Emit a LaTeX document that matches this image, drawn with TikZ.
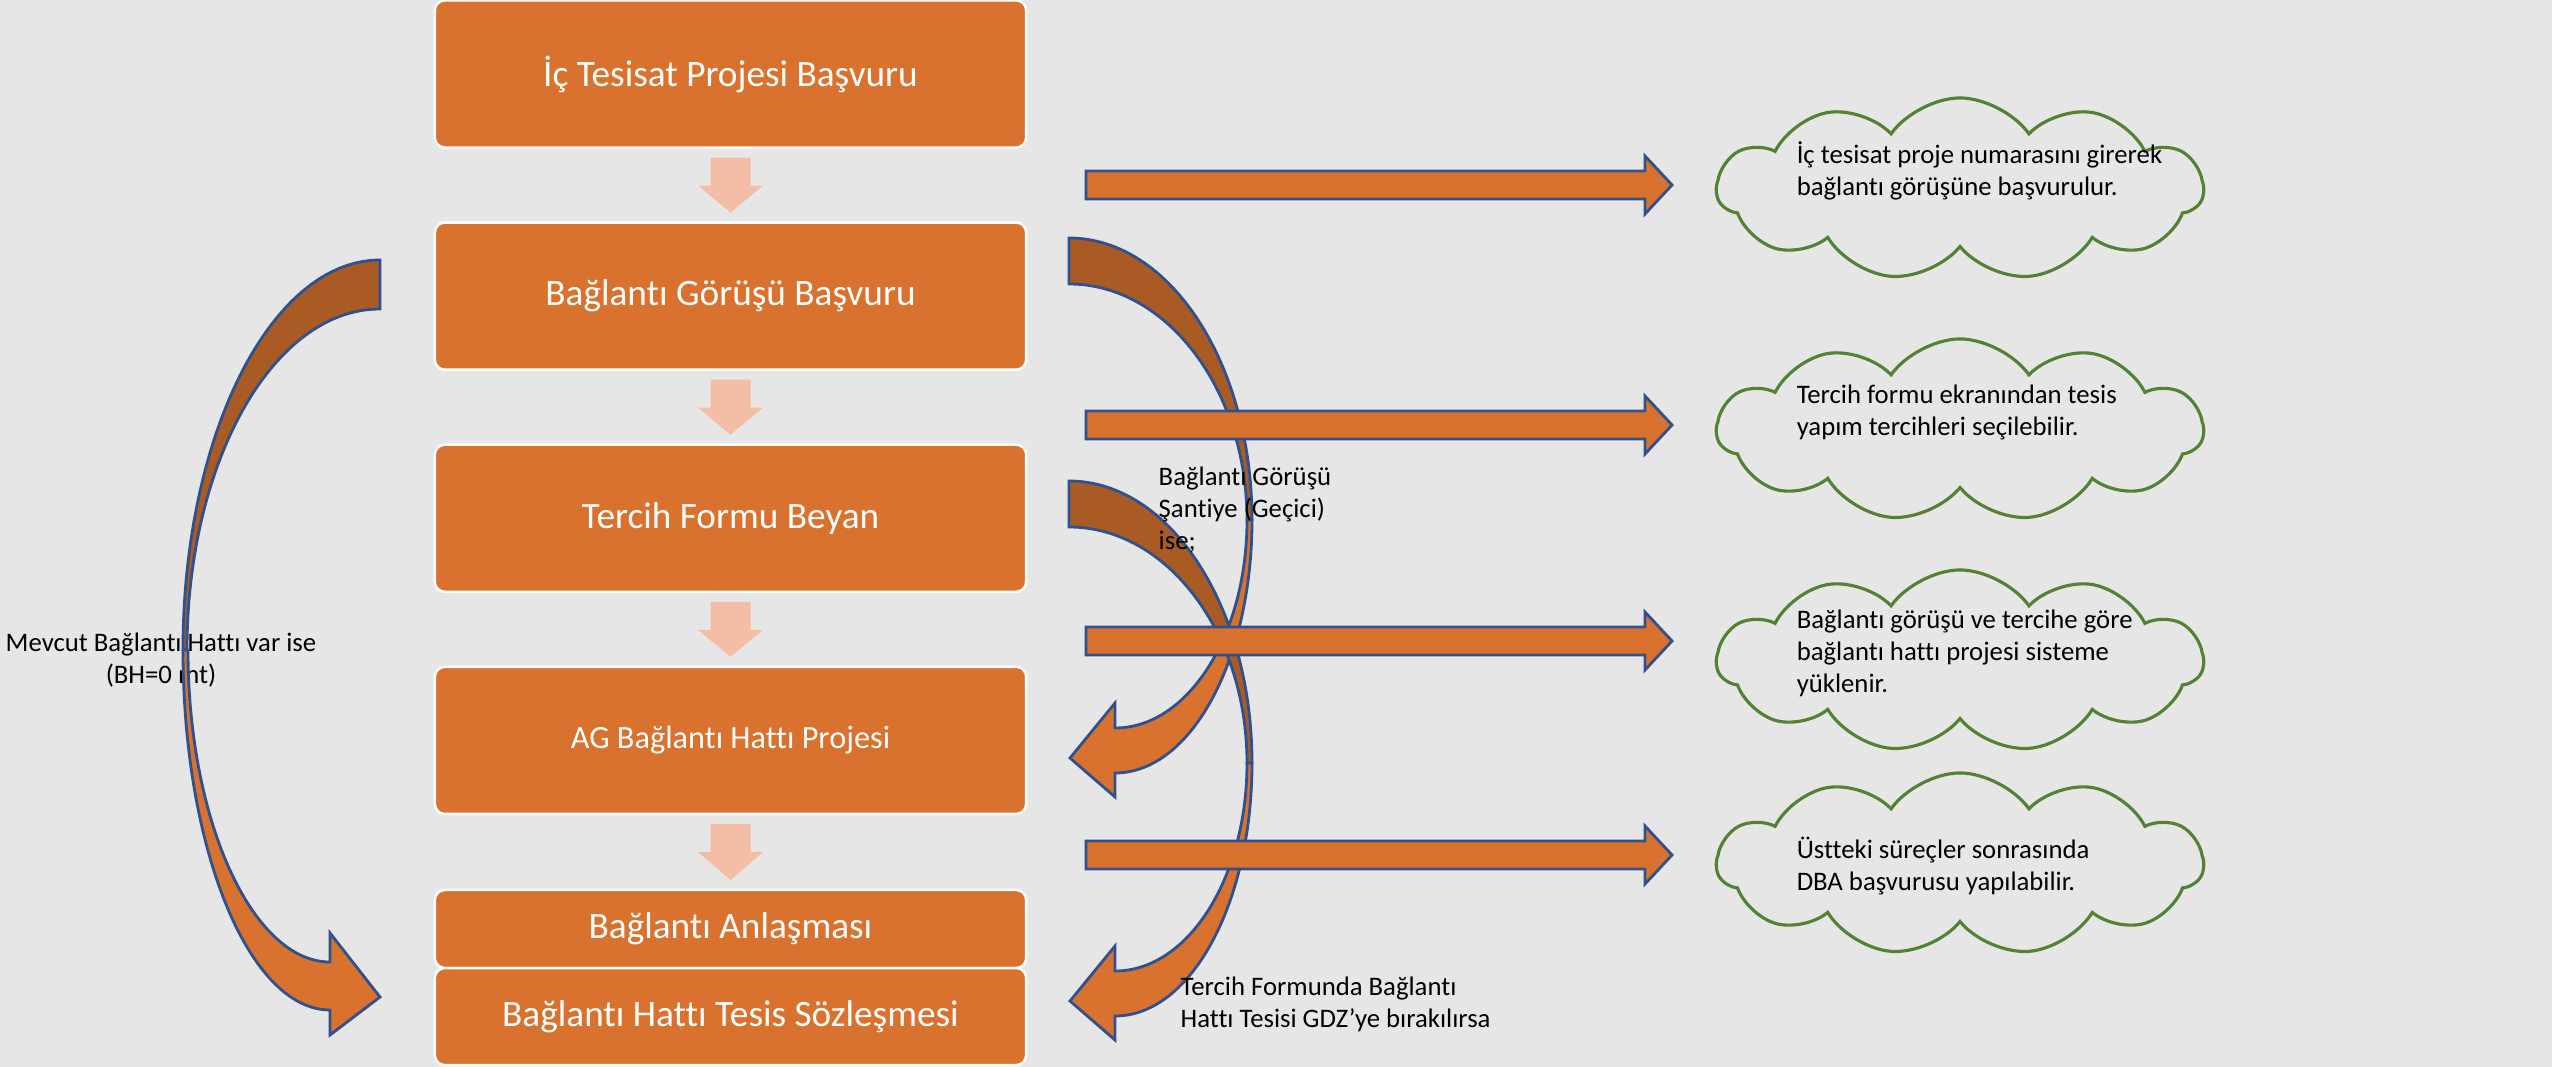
\documentclass[tikz,border=0pt]{standalone}
\usepackage{fontspec}
\setmainfont{Carlito}[Ligatures=NoCommon]
\usetikzlibrary{positioning}
\usetikzlibrary{shapes.symbols}
\usetikzlibrary{calc}

\definecolor{slidegray}{HTML}{E7E6E6}
\definecolor{boxorange}{HTML}{D8722E}
\definecolor{bandbrown}{HTML}{AA5A23}
\definecolor{edgeblue}{HTML}{2F528F}
\definecolor{paleorange}{HTML}{F4BDA6}
\definecolor{cloudgreen}{HTML}{548235}

\begin{document}
\begin{tikzpicture}[x=0.01cm, y=-0.01cm,
stepnode/.style={rectangle, rounded corners=0.1cm, draw=white, line width=0.7pt, outer sep=0pt, fill=boxorange, text=white, minimum width=5.91cm, minimum height=1.47cm, font=\fontsize{10.6}{12.7}\selectfont},
notecloud/.style={cloud, cloud puffs=11, cloud puff arc=110, aspect=2.67, draw=cloudgreen, line width=0.9pt, outer sep=0pt, minimum width=4.86cm, minimum height=1.82cm},
notetext/.style={align=left, anchor=west, inner sep=0pt, font=\fontsize{7.6}{9.1}\selectfont},
palearrow/.style={fill=paleorange},
blockarrow/.style={fill=boxorange, draw=edgeblue, line width=0.8pt},
bandback/.style={fill=bandbrown, draw=edgeblue, line width=0.8pt},
bandfront/.style={fill=boxorange, draw=edgeblue, line width=0.8pt},
node distance=0.75cm
]
\fill[slidegray] (0,0) rectangle (2552,1067);
\useasboundingbox (0,0) rectangle (2552,1067);

%Nodes
\node[stepnode] (icbasvuru) at (730.5,74) {İç Tesisat Projesi Başvuru};
\node[stepnode] (gorusbasvuru) [below=of icbasvuru] {Bağlantı Görüşü Başvuru};
\node[stepnode] (tercihbeyan) [below=of gorusbasvuru] {Tercih Formu Beyan};
\node[stepnode, font=\fontsize{9.2}{11}\selectfont] (agproje) [below=of tercihbeyan] {AG Bağlantı Hattı Projesi};
\node[stepnode, minimum height=0.78cm] (anlasma) [below=0.76cm of agproje] {Bağlantı Anlaşması};
\node[stepnode, minimum height=0.97cm] (sozlesme) [below=0cm of anlasma] {Bağlantı Hattı Tesis Sözleşmesi};

\node[notecloud] (cloudproje) at (1960,189) {};
\node[notecloud] (cloudtercih) at (1960,430) {};
\node[notecloud] (cloudhat) at (1960,661) {};
\node[notecloud] (clouddba) at (1960,864) {};

%Down arrows
\foreach \a/\b in {icbasvuru/gorusbasvuru, gorusbasvuru/tercihbeyan, tercihbeyan/agproje, agproje/anlasma}
  \fill[palearrow] ($(\a.south)+(-20,10)$) -- ($(\a.south)+(20,10)$) -- ($(\a.south)+(20,38)$) -- ($(\a.south)+(32.5,38)$) -- ($(\b.north)+(0,-10)$) -- ($(\a.south)+(-32.5,38)$) -- ($(\a.south)+(-20,38)$) -- cycle;

%Left label and curved arrow
\node[notetext, anchor=center, align=center] (mevcutlabel) at (161,660) {Mevcut Bağlantı Hattı var ise\\(BH=0 mt)};
\draw[bandback] (380,260) .. controls (271,260) and (183,435) .. (183,650) -- (187,650) .. controls (187,462) and (273,309) .. (380,309) -- cycle;
\draw[bandfront] (183,650) .. controls (183,849) and (249,1010) .. (330,1010) -- (330,1035) -- (380,997) -- (330,933) -- (330,962) .. controls (253,962) and (188,822) .. (188,650) -- cycle;

%Right curved arrows
\foreach \s in {0,243}{
\begin{scope}[shift={(0,\s)}]
\draw[bandback] (1069,238) .. controls (1170,238) and (1252,364) .. (1252,520) -- (1247,520) .. controls (1247,390) and (1167,284) .. (1069,284) -- cycle;
\draw[bandfront] (1252,520) .. controls (1252,660) and (1191,773) .. (1115,773) -- (1115,797) -- (1070,758) -- (1115,703) -- (1115,728) .. controls (1188,728) and (1247,635) .. (1247,520) -- cycle;
\end{scope}
}

%Block arrows
\foreach \c in {185,425,641,855}
  \draw[blockarrow] (1086,{\c-14}) -- (1645,{\c-14}) -- (1645,{\c-29}) -- (1672,\c) -- (1645,{\c+29}) -- (1645,{\c+14}) -- (1086,{\c+14}) -- cycle;

%Texts
\node[notetext] (textproje) [right=0.8cm of cloudproje.west, yshift=0.18cm] {İç tesisat proje numarasını girerek\\bağlantı görüşüne başvurulur.};
\node[notetext] (texttercih) [right=0.8cm of cloudtercih.west, yshift=0.18cm] {Tercih formu ekranından tesis\\yapım tercihleri seçilebilir.};
\node[notetext] (texthat) [right=0.8cm of cloudhat.west, yshift=0.08cm] {Bağlantı görüşü ve tercihe göre\\bağlantı hattı projesi sisteme\\yüklenir.};
\node[notetext] (textdba) [right=0.8cm of clouddba.west, yshift=-0.02cm] {Üstteki süreçler sonrasında\\DBA başvurusu yapılabilir.};
\node[notetext] (santiyelabel) at (1158,510) {Bağlantı Görüşü\\Şantiye (Geçici)\\ise;};
\node[notetext] (gdzlabel) at (1180,1004) {Tercih Formunda Bağlantı\\Hattı Tesisi GDZ’ye bırakılırsa};

\end{tikzpicture}
\end{document}
